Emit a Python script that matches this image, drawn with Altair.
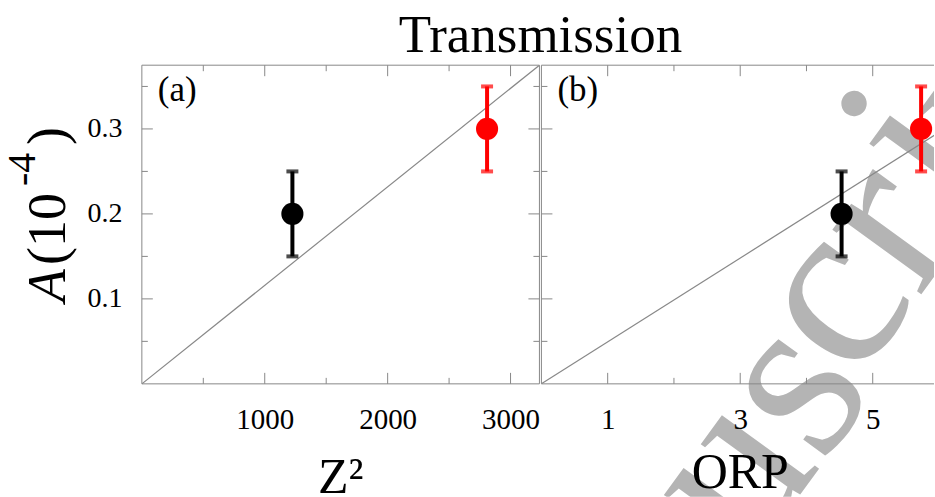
import altair as alt
import pandas as pd

SERIF = "Liberation Serif"
GRAY = "#888888"

# ---- data ----
series = ["black", "red"]
z_squared = [1225, 2809]
orp = [4.53, 5.73]
amplitude = [0.2, 0.3]
amp_err = [0.05, 0.05]
point_colors = ["#000000", "#ff0000"]

line_a_x = [0, 3235]
line_a_y = [0, 0.375]
line_b_x = [0, 6]
line_b_y = [0, 0.296]

a_x_major = [1000, 2000, 3000]
a_x_minor = [500, 1500, 2500]
b_x_major = [1, 3, 5]
b_x_minor = [2, 4]
y_major = [0.1, 0.2, 0.3]
y_minor = [0.05, 0.15, 0.25, 0.35]

# ---- layout ----
Y_TOP = 0.375
H = 319          # data frame height
HH = 432         # view height (frame + room below for axis text)
WA = 398
WB = 393
a_x_domain = [0, 3235]
b_x_domain = [0, 6 * WB / WA]
y_domain = [Y_TOP - Y_TOP * HH / H, Y_TOP]
MAJ, MIN = 11, 6

# "Manuscript" watermark letters (pixel anchors inside panel b)
wm_letters = ["n", "u", "s", "c", "r", "i", "p"]
wm_px = [174, 245, 308, 346, 401, 432, 499]
wm_py = [546, 449, 363, 276, 201, 123, 67]


def one(s):
    return pd.DataFrame({"t": [s]})


def txt(s, size, x, y, style="normal", angle=0, color="black", align="left", **kw):
    return alt.Chart(one(s)).mark_text(
        font=SERIF, fontSize=size, fontStyle=style, align=align, baseline="alphabetic",
        angle=angle, color=color, **kw).encode(
        x=alt.value(x), y=alt.value(y), text="t:N")


def frame_rule(**enc):
    return alt.Chart(one("f")).mark_rule(color=GRAY, strokeWidth=1).encode(**enc)


def panel(xs, xdom, W, lx, ly, xmaj, xmin, xtitle, xtitle_y, tag, show_y, right_frame, under, extra):
    pts = pd.DataFrame({
        "x": xs,
        "y": amplitude,
        "lo": [a - e for a, e in zip(amplitude, amp_err)],
        "hi": [a + e for a, e in zip(amplitude, amp_err)],
        "c": point_colors,
        "s": series,
    })
    xsc = alt.Scale(domain=xdom, nice=False, zero=False)
    ysc = alt.Scale(domain=y_domain, nice=False, zero=False)
    xax = alt.Axis(values=xmaj, format="d", ticks=False, tickSize=0, domain=False, grid=False,
                   labelFont=SERIF, labelFontSize=29, labelColor="black", labelPadding=22,
                   offset=-(HH - H), title=None, zindex=2)
    if show_y:
        yax = alt.Axis(values=y_major, format=".1f", ticks=False, tickSize=0, domain=False, grid=False,
                       labelFont=SERIF, labelFontSize=28, labelColor="black", labelPadding=20,
                       title=None, zindex=2)
    else:
        yax = None
    X = alt.X("x:Q", scale=xsc, axis=xax)
    Y = alt.Y("y:Q", scale=ysc, axis=yax)

    layers = list(under)
    # frame
    layers.append(frame_rule(x=alt.value(0), x2=alt.value(W), y=alt.value(0)))
    layers.append(frame_rule(x=alt.value(0), x2=alt.value(W), y=alt.value(H)))
    layers.append(frame_rule(x=alt.value(0), y=alt.value(0), y2=alt.value(H)))
    if right_frame:
        layers.append(frame_rule(x=alt.value(W), y=alt.value(0), y2=alt.value(H)))

    layers.append(alt.Chart(pd.DataFrame({"x": lx, "y": ly})).mark_line(
        color=GRAY, strokeWidth=1.2, clip=True).encode(x=X, y=Y))

    # inward ticks on all four sides
    for vals, L in ((xmaj, MAJ), (xmin, MIN)):
        d = pd.DataFrame({"x": vals})
        layers.append(alt.Chart(d).mark_rule(color=GRAY, strokeWidth=1).encode(
            x=X, y=alt.value(H), y2=alt.value(H - L)))
        layers.append(alt.Chart(d).mark_rule(color=GRAY, strokeWidth=1).encode(
            x=X, y=alt.value(0), y2=alt.value(L)))
    for vals, L in ((y_major, MAJ), (y_minor, MIN)):
        d = pd.DataFrame({"y": vals})
        layers.append(alt.Chart(d).mark_rule(color=GRAY, strokeWidth=1).encode(
            y=Y, x=alt.value(0), x2=alt.value(L)))
        if right_frame:
            layers.append(alt.Chart(d).mark_rule(color=GRAY, strokeWidth=1).encode(
                y=Y, x=alt.value(W), x2=alt.value(W - L)))

    base = alt.Chart(pts)
    col = alt.Color("c:N", scale=None, legend=None)
    layers.append(base.mark_rule(strokeWidth=4).encode(
        x=X, y=alt.Y("lo:Q", scale=ysc, axis=yax), y2="hi:Q", color=col))
    layers.append(base.mark_tick(orient="horizontal", size=12, thickness=4).encode(
        x=X, y=alt.Y("lo:Q", scale=ysc, axis=yax), color=col))
    layers.append(base.mark_tick(orient="horizontal", size=12, thickness=4).encode(
        x=X, y=alt.Y("hi:Q", scale=ysc, axis=yax), color=col))
    layers.append(base.mark_circle(size=490, opacity=1).encode(x=X, y=Y, color=col))

    layers.append(txt(tag, 35, 16, 36))
    layers.append(txt(xtitle, 50, 199, xtitle_y, align="center", clip=True))
    layers.extend(extra)
    return alt.layer(*layers).properties(width=W, height=HH)


extra_a = [
    # anchors the canvas origin at the page's top-left corner
    alt.Chart(one("o")).mark_rule(opacity=0).encode(
        x=alt.value(-142), x2=alt.value(-141), y=alt.value(-65)),
    txt("Transmission", 53, 399, -13, align="center"),
    txt("A", 54, -77, 237, style="italic", angle=270),
    txt("(10", 54, -77, 200, angle=270),
    txt("-4", 40, -107, 121, angle=270),
    txt(")", 54, -77, 80, angle=270),
]

watermark_b = [
    txt(ch, 240, px, py, angle=306, color="#b4b4b4", align="center", clip=True)
    for ch, px, py in zip(wm_letters, wm_px, wm_py)
]

pa = panel(z_squared, a_x_domain, WA, line_a_x, line_a_y, a_x_major, a_x_minor,
           "Z²", 428, "(a)", True, True, [], extra_a)
pb = panel(orp, b_x_domain, WB, line_b_x, line_b_y, b_x_major, b_x_minor,
           "ORP", 423, "(b)", False, False, watermark_b, [])

chart = alt.hconcat(pa, pb, spacing=2, bounds="flush").properties(
    padding={"left": 0, "top": 0, "right": 0, "bottom": 0},
).configure_view(strokeWidth=0)

chart.save("out.html", embed_options={"renderer": "svg", "actions": False})
